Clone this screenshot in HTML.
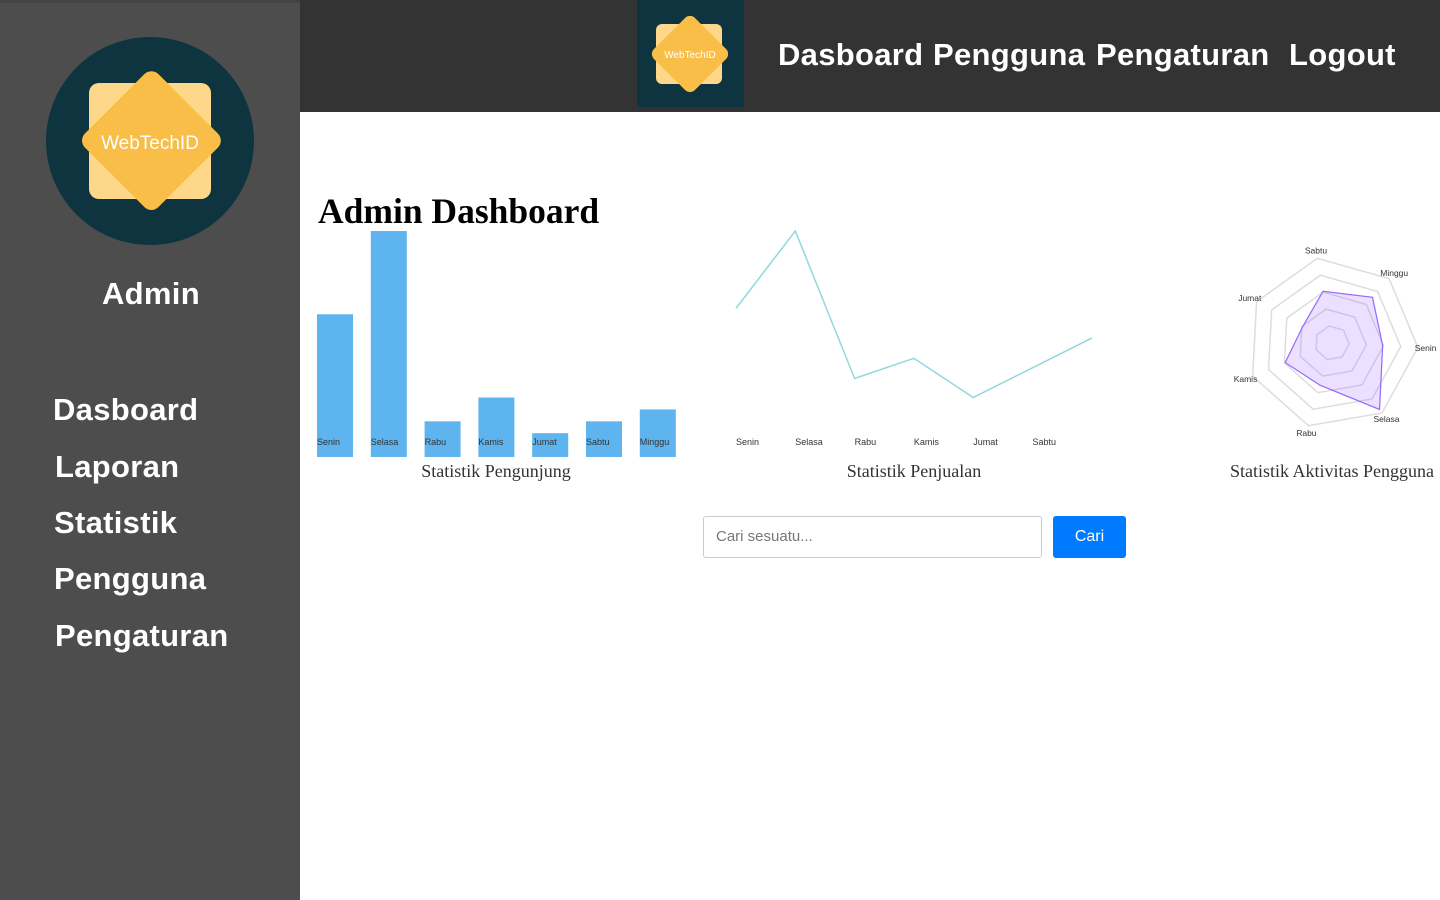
<!DOCTYPE html>
<html><head><meta charset="utf-8"><style>
*{margin:0;padding:0;box-sizing:border-box}
body{width:1440px;height:900px;position:relative;background:#fff;overflow:hidden;font-family:"Liberation Sans",sans-serif}
.side{position:absolute;left:0;top:0;width:300px;height:900px;background:#4d4d4d;border-top:3px solid #444}
.head{position:absolute;left:300px;top:0;width:1140px;height:112px;background:#333}
.nav,.snav{position:absolute;color:#fff;font-family:"Liberation Sans",sans-serif;font-weight:bold;font-size:31px;letter-spacing:0.3px}
svg text{font-family:"Liberation Sans",sans-serif}
</style></head><body>
<div class="side">
<svg width="300" height="260" style="position:absolute;left:0;top:-3px">
<circle cx="150" cy="141" r="104" fill="#0e3440"/>
<rect x="89" y="83" width="122" height="116" rx="10" fill="#fdd88a"/>
<rect x="98" y="88" width="104" height="104" rx="10" fill="#f8be48" transform="rotate(45 150 142)"/>
<text x="150" y="149" text-anchor="middle" fill="#fff" font-size="19">WebTechID</text>
</svg>
<div class="snav" style="left:102px;top:273px">Admin</div>
<div class="snav" style="left:53px;top:389px">Dasboard</div>
<div class="snav" style="left:55px;top:446px">Laporan</div>
<div class="snav" style="left:54px;top:502px">Statistik</div>
<div class="snav" style="left:54px;top:558px">Pengguna</div>
<div class="snav" style="left:55px;top:615px">Pengaturan</div>
</div>
<div class="head"></div>
<svg width="107" height="107" style="position:absolute;left:637px;top:0">
<rect width="107" height="107" fill="#0e3440"/>
<rect x="19" y="24" width="66" height="60" rx="6" fill="#fdd88a"/>
<rect x="24" y="25" width="58" height="58" rx="7" fill="#f8be48" transform="rotate(45 53 54)"/>
<text x="53" y="58" text-anchor="middle" fill="#fff" font-size="10">WebTechID</text>
</svg>
<div class="nav" style="left:778px;top:37px">Dasboard</div>
<div class="nav" style="left:933px;top:37px">Pengguna</div>
<div class="nav" style="left:1096px;top:37px">Pengaturan</div>
<div class="nav" style="left:1289px;top:37px">Logout</div>
<div style="position:absolute;left:318px;top:190px;font-family:'Liberation Serif',serif;font-weight:bold;font-size:35.5px;color:#000">Admin Dashboard</div>
<svg id="charts" width="1440" height="500" style="position:absolute;left:0;top:0"></svg>
<div style="position:absolute;left:703px;top:516px;width:339px;height:42px;border:1px solid #ccc;border-radius:3px;padding:0 12px;line-height:40px;color:#777;font-size:15px">Cari sesuatu...</div>
<div style="position:absolute;left:1053px;top:516px;width:73px;height:42px;background:#007bff;border-radius:3px;color:#fff;text-align:center;line-height:42px;font-size:16px">Cari</div>
<script>
const days=["Senin","Selasa","Rabu","Kamis","Jumat","Sabtu","Minggu"];
const visitors=[12,19,3,5,2,3,4];
const sales=[12.5,19,6.6,8.3,5,7.5,10];
const activity=[59,95,51,59,39,61,71];
const NS="http://www.w3.org/2000/svg";
const svg=document.getElementById('charts');
function mk(t,a,p){const e=document.createElementNS(NS,t);for(const k in a)e.setAttribute(k,a[k]);(p||svg).appendChild(e);return e;}
const base=457,top0=231,yMax=19;
const yB=v=>base-(v/yMax)*(base-top0);
const xB=i=>317+i*53.8;
visitors.forEach((v,i)=>{
 const r=mk('rect',{x:xB(i),y:yB(v),width:36,height:base-yB(v),fill:'#5eb4ef'});
 
 
 const t=mk('text',{x:xB(i),y:445,'font-size':9,fill:'#333'});t.textContent=days[i];
 
 
});
const t1=mk('text',{x:496,y:477,'text-anchor':'middle','font-size':18,fill:'#333'});t1.textContent='Statistik Pengunjung';t1.style.fontFamily='"Liberation Serif",serif';


const xL=i=>736+i*59.3;
const pts=sales.map((v,i)=>xL(i)+','+yB(v)).join(' ');
const pl=mk('polyline',{points:pts,fill:'none',stroke:'#8fd8dc','stroke-width':1.5});


days.slice(0,6).forEach((d,i)=>{const t=mk('text',{x:xL(i),y:445,'font-size':9,fill:'#333'});t.textContent=d;
 
 });
const t2=mk('text',{x:914,y:477,'text-anchor':'middle','font-size':18,fill:'#333'});t2.textContent='Statistik Penjualan';t2.style.fontFamily='"Liberation Serif",serif';


const cx=1332,cy=343,R=86,rMax=100;
const ang=i=>(3+i*360/7)*Math.PI/180;
const P=(i,v)=>[cx+Math.cos(ang(i))*R*v/rMax,cy+Math.sin(ang(i))*R*v/rMax];
[20,40,60,80,100].forEach(l=>{const g=mk('polygon',{points:days.map((d,i)=>P(i,l).join(',')).join(' '),fill:'none',stroke:'#ddd','stroke-width':1.5});
 
 });
const rp=mk('polygon',{points:activity.map((v,i)=>P(i,v).join(',')).join(' '),fill:'rgba(153,102,255,0.2)',stroke:'#9966ff','stroke-width':1.2});


days.forEach((d,i)=>{const [x,y]=P(i,109);const t=mk('text',{x:x,y:y+3,'text-anchor':'middle','font-size':8.5,fill:'#333'});t.textContent=d;
 
 });
const t3=mk('text',{x:1332,y:477,'text-anchor':'middle','font-size':18,fill:'#333'});t3.textContent='Statistik Aktivitas Pengguna';t3.style.fontFamily='"Liberation Serif",serif';


</script>
</body></html>
